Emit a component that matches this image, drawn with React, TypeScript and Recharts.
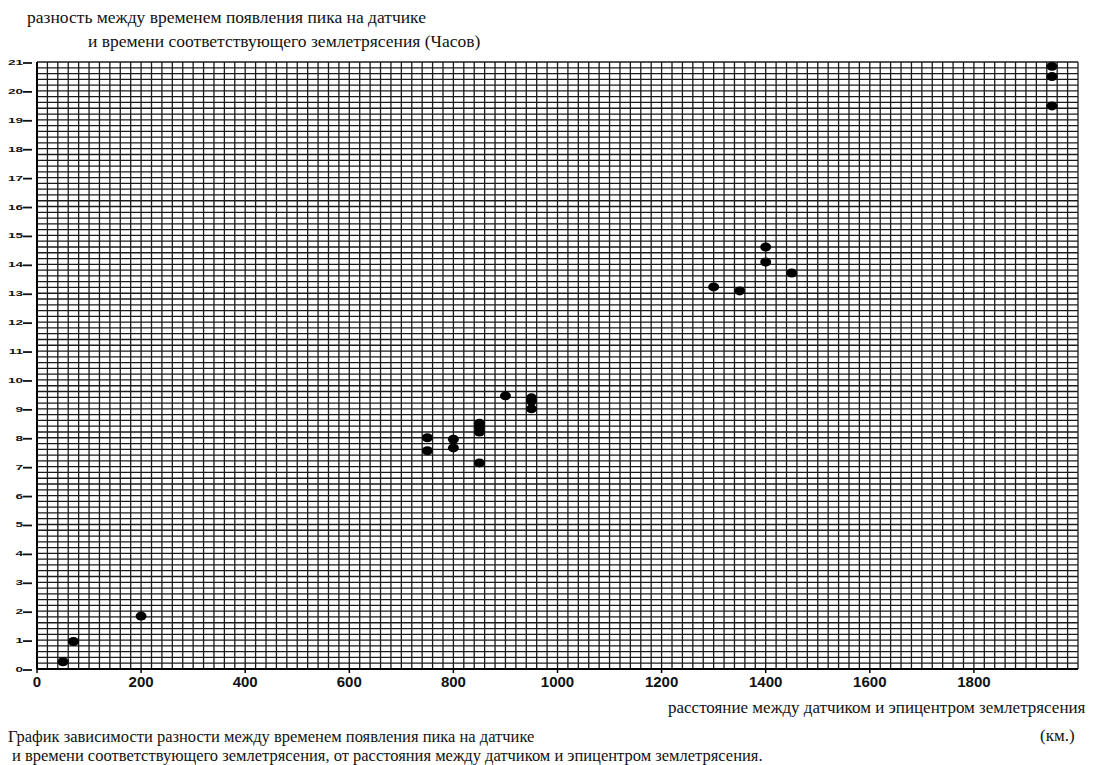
import React from "react";
import { ScatterChart, Scatter, XAxis, YAxis, CartesianGrid } from "recharts";

const distanceKm = [50, 70, 200, 750, 750, 800, 800, 850, 850, 850, 850, 900, 950, 950, 950, 1300, 1350, 1400, 1400, 1450, 1950, 1950, 1950];
const delayHours = [0.25, 0.95, 1.83, 8.0, 7.55, 7.95, 7.65, 8.5, 8.37, 8.2, 7.13, 9.45, 9.38, 9.27, 9.0, 13.22, 13.08, 14.6, 14.08, 13.7, 20.85, 20.5, 19.48];
const xTickLabels = [0, 200, 400, 600, 800, 1000, 1200, 1400, 1600, 1800];
const yTickLabels = [0, 1, 2, 3, 4, 5, 6, 7, 8, 9, 10, 11, 12, 13, 14, 15, 16, 17, 18, 19, 20, 21];

const X_MAX = 2000;
const Y_MAX = 21;
const X_GRID_STEP = 20;
const Y_GRID_STEP = 0.2;

const data = distanceKm.map((d, i) => ({ x: d, y: delayHours[i] }));

const xGrid: number[] = [];
for (let v = 0; v <= X_MAX + 0.001; v += X_GRID_STEP) xGrid.push(Math.round(v));
const yGrid: number[] = [];
for (let k = 0; k <= Math.round(Y_MAX / Y_GRID_STEP); k++) yGrid.push(+(k * Y_GRID_STEP).toFixed(2));

const YTick = (props: any) => {
  const { x, y, payload } = props;
  return (
    <g>
      <line x1={x - 10} y1={y + 1} x2={x - 1} y2={y + 1} stroke="#111" strokeWidth={1.8} />
      <text
        x={0}
        y={0}
        transform={`translate(${x - 10}, ${y + 3}) scale(1.7, 1)`}
        textAnchor="end"
        fontFamily="Liberation Sans, Arial, sans-serif"
        fontWeight="bold"
        fontSize={8}
        fill="#111"
      >
        {payload.value}
      </text>
    </g>
  );
};

const Dot = (props: any) => {
  const { cx, cy } = props;
  return <ellipse cx={cx} cy={cy} rx={5.5} ry={4.5} fill="#000" />;
};

const serif = "'Liberation Serif', 'Times New Roman', serif";
const textStyle = { position: "absolute" as const, fontFamily: serif, fontSize: 17, color: "#111", whiteSpace: "nowrap" as const, lineHeight: "20px" };

export default function App() {
  return (
    <div style={{ position: "absolute", left: 0, top: 0, width: 1093, height: 765, background: "#fff", overflow: "hidden" }}>
      <div style={{ ...textStyle, fontSize: 17.5, left: 27, top: 7 }}>
        разность между временем появления пика на датчике
      </div>
      <div style={{ ...textStyle, fontSize: 17.5, left: 88, top: 31 }}>
        и времени соответствующего землетрясения (Часов)
      </div>
      <div style={{ position: "absolute", left: 0, top: 0 }}>
        <ScatterChart width={1093} height={700} margin={{ top: 62, right: 15, bottom: 1, left: 0 }}>
          <CartesianGrid
            stroke="#1a1a1a"
            strokeWidth={1.3}
            horizontalValues={yGrid}
            verticalValues={xGrid}
          />
          <XAxis
            type="number"
            dataKey="x"
            domain={[0, X_MAX]}
            ticks={xTickLabels}
            interval={0}
            height={30}
            axisLine={{ stroke: "#000", strokeWidth: 2 }}
            tickLine={{ stroke: "#000", strokeWidth: 1.5 }}
            tickSize={4}
            tickMargin={3}
            tick={{ fill: "#111", fontSize: 15, fontWeight: "bold", fontFamily: "Liberation Sans, Arial, sans-serif" }}
            allowDataOverflow
          />
          <YAxis
            type="number"
            dataKey="y"
            domain={[0, Y_MAX]}
            ticks={yTickLabels}
            interval={0}
            width={37}
            axisLine={{ stroke: "#000", strokeWidth: 2 }}
            tickLine={false}
            tickSize={4}
            tickMargin={0}
            tick={<YTick />}
            allowDataOverflow
          />
          <Scatter data={data} shape={<Dot />} isAnimationActive={false} />
        </ScatterChart>
      </div>
      <div style={{ ...textStyle, left: 668, top: 698 }}>
        расстояние между датчиком и эпицентром землетрясения
      </div>
      <div style={{ ...textStyle, left: 1040, top: 726 }}>
        (км.)
      </div>
      <div style={{ ...textStyle, fontSize: 16.5, left: 8, top: 728, lineHeight: "18.5px" }}>
        <div>График зависимости разности между временем появления пика на датчике</div>
        <div style={{ marginLeft: 4 }}>и времени соответствующего землетрясения, от расстояния между датчиком и эпицентром землетрясения.</div>
      </div>
    </div>
  );
}
